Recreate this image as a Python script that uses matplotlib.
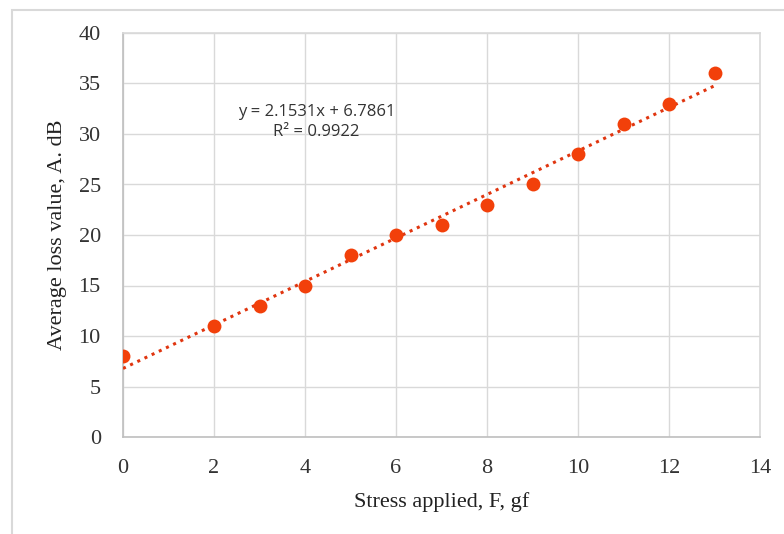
import numpy as np
import matplotlib.pyplot as plt
from matplotlib.patches import Rectangle

# donnees
stress = [0, 2, 3, 4, 5, 6, 7, 8, 9, 10, 11, 12, 13]
loss = [8, 11, 13, 15, 18, 20, 21, 23, 25, 28, 31, 33, 36]
slope = 2.1531
intercept = 6.7861
r2 = 0.9922

x_ticks = [0, 2, 4, 6, 8, 10, 12, 14]
y_ticks = [0, 5, 10, 15, 20, 25, 30, 35, 40]

fig = plt.figure(figsize=(7.84, 5.34), dpi=100)
fig.patches.append(Rectangle((12 / 784, -0.1), 1.2, 1 - 10 / 534 + 0.1,
                             transform=fig.transFigure, fill=False,
                             edgecolor="#d9d9d9", linewidth=1.5))

ax = fig.add_axes([123 / 784, 1 - 437 / 534, (760 - 123) / 784, (437 - 33) / 534])

# droite de tendance
xt = np.array([stress[0], stress[-1]])
ax.plot(xt, slope * xt + intercept, linestyle=(0, (1, 1.6)), color="#e0350f",
        linewidth=2.2, zorder=3)
ax.scatter(stress, loss, s=100, color="#f2400a", zorder=4, linewidths=0)

ax.set_xlim(0, 14)
ax.set_ylim(0, 40)
ax.set_xticks(x_ticks)
ax.set_yticks(y_ticks)
ax.grid(True, color="#d9d9d9", linewidth=1)
ax.set_axisbelow(True)
for s in ax.spines.values():
    s.set_color("#d9d9d9")
    s.set_linewidth(1.2)
ax.spines["bottom"].set_color("#bfbfbf")
ax.spines["left"].set_color("#bfbfbf")
ax.tick_params(axis="y", length=0, pad=16, labelsize=16, labelcolor="#333333")
ax.tick_params(axis="x", length=0, pad=16, labelsize=16, labelcolor="#333333")
for lab in ax.get_xticklabels() + ax.get_yticklabels():
    lab.set_family("Liberation Serif")

ax.set_xlabel("Stress applied, F, gf", family="Liberation Serif", fontsize=16,
              color="#222222", labelpad=10)
ax.set_ylabel("Average loss value, A. dB", family="Liberation Serif", fontsize=16,
              color="#222222", labelpad=8)

ax.text(4.25, 31.2, f"y = {slope}x + {intercept}\nR² = {r2}", ha="center",
        va="center", fontsize=12, family=["Open Sans", "DejaVu Sans"],
        color="#333333", linespacing=1.35)

plt.savefig("out.png", dpi=100)
